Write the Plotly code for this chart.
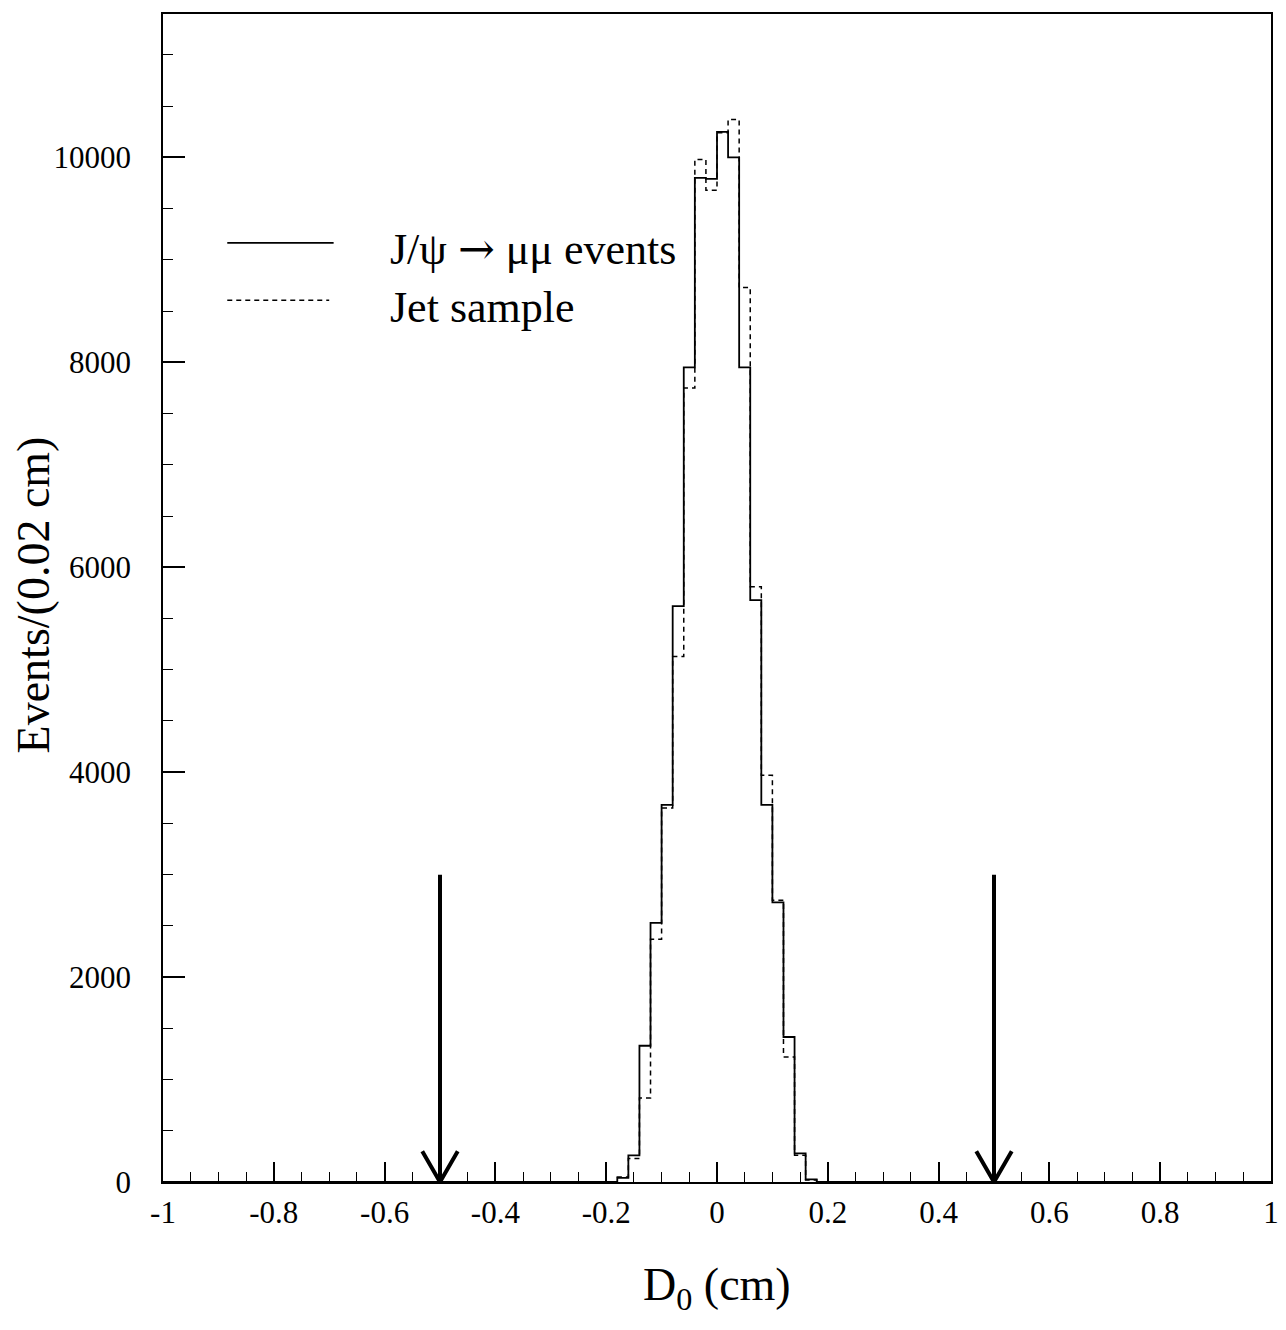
import numpy as np
import plotly.graph_objects as go

# Impact parameter histogram, 0.02 cm bins (only the populated bins are listed;
# every other bin in [-1, 1] is empty)
bin_centres = [-0.17, -0.15, -0.13, -0.11, -0.09, -0.07, -0.05, -0.03, -0.01,
               0.01, 0.03, 0.05, 0.07, 0.09, 0.11, 0.13, 0.15, 0.17]
jpsi_counts = [40, 260, 1330, 2530, 3680, 5620, 7950, 9800, 9790,
               10250, 10000, 7950, 5680, 3680, 2730, 1415, 280, 25]
jet_counts = [50, 230, 820, 2370, 3650, 5130, 7750, 9980, 9680,
              10240, 10370, 8730, 5810, 3970, 2750, 1220, 260, 20]

bin_width = 0.02
x_range = [-1.0, 1.0]

# cut positions marked with arrows
cut_values = [-0.5, 0.5]
arrow_height = 3000

x_tickvals = [-1, -0.8, -0.6, -0.4, -0.2, 0, 0.2, 0.4, 0.6, 0.8, 1]
x_ticktext = ["-1", "-0.8", "-0.6", "-0.4", "-0.2", "0", "0.2", "0.4", "0.6", "0.8", "1"]
y_tickvals = [0, 2000, 4000, 6000, 8000, 10000]
y_ticktext = ["0", "2000", "4000", "6000", "8000", "10000"]

series_names = ["J/\u03c8 <span style='font-family:DejaVu Serif'>\u2192</span> \u03bc\u03bc events",
                "Jet sample"]

SERIF = "Liberation Serif, Times New Roman, serif"


def full_histogram(centres, counts):
    """Spread the populated bins over the whole axis range and return
    step-outline coordinates (left edges plus the closing right edge)."""
    n_bins = int(round((x_range[1] - x_range[0]) / bin_width))
    edges = x_range[0] + bin_width * np.arange(n_bins + 1)
    values = np.zeros(n_bins)
    for c, v in zip(centres, counts):
        idx = int(np.floor((c - x_range[0]) / bin_width))
        values[idx] = v
    ys = np.append(values, values[-1])
    return edges, ys


fig = go.Figure()

hx, hy = full_histogram(bin_centres, jet_counts)
fig.add_trace(go.Scatter(x=hx, y=hy, mode="lines", line_shape="hv",
                         name="Jet sample",
                         line=dict(color="black", width=1.5, dash="5px,4px")))

hx, hy = full_histogram(bin_centres, jpsi_counts)
fig.add_trace(go.Scatter(x=hx, y=hy, mode="lines", line_shape="hv",
                         name="J/psi -> mu mu events",
                         line=dict(color="black", width=1.8)))

# arrows marking the |D0| cut
head_dx = 0.032
head_dy = 300
for c in cut_values:
    fig.add_trace(go.Scatter(x=[c, c], y=[arrow_height, 0], mode="lines",
                             line=dict(color="black", width=4),
                             showlegend=False, hoverinfo="skip"))
    fig.add_trace(go.Scatter(x=[c - head_dx, c, c + head_dx],
                             y=[head_dy, 0, head_dy], mode="lines",
                             line=dict(color="black", width=4),
                             showlegend=False, hoverinfo="skip"))

# hand-drawn legend: line samples and labels
legend_rows = [
    dict(y=0.804, ty=0.7995, x1=0.154, dash="solid", width=1.8),
    dict(y=0.755, ty=0.749, x1=0.150, dash="5px,4px", width=1.5),
]
for row, name in zip(legend_rows, series_names):
    fig.add_shape(type="line", xref="paper", yref="paper",
                  x0=0.058, x1=row["x1"], y0=row["y"], y1=row["y"],
                  line=dict(color="black", width=row["width"], dash=row["dash"]))
    fig.add_annotation(xref="paper", yref="paper", x=0.2034, y=row["ty"],
                       text=name, showarrow=False, xanchor="left",
                       yanchor="middle",
                       font=dict(family=SERIF, size=44, color="black"))

# axis titles
fig.add_annotation(xref="paper", yref="paper", x=0.5, y=-0.0908,
                   text="D<sub>0</sub> (cm)", showarrow=False,
                   xanchor="center", yanchor="middle",
                   font=dict(family=SERIF, size=46, color="black"))
fig.add_annotation(xref="paper", yref="paper", x=-0.1165, y=0.503,
                   text="Events/(0.02 cm)", showarrow=False, textangle=-90,
                   xanchor="center", yanchor="middle",
                   font=dict(family=SERIF, size=46, color="black"))

fig.update_layout(
    width=1286, height=1330,
    margin=dict(l=163, r=7, t=14, b=148),
    paper_bgcolor="white", plot_bgcolor="white",
    showlegend=False,
    font=dict(family=SERIF, color="black"),
)

fig.update_xaxes(
    range=x_range, showgrid=False, zeroline=False,
    showline=True, linecolor="black", linewidth=1.5, mirror=True,
    tickmode="array", tickvals=x_tickvals, ticktext=x_ticktext,
    ticks="inside", ticklen=20, tickwidth=1.5, tickcolor="black",
    ticklabelstandoff=2,
    tickfont=dict(family=SERIF, size=31, color="black"),
    minor=dict(tickmode="linear", tick0=-1, dtick=0.05, ticks="inside",
               ticklen=10, tickwidth=1.2, tickcolor="black", showgrid=False),
)
fig.update_yaxes(
    range=[0, 11400], showgrid=False, zeroline=False,
    showline=True, linecolor="black", linewidth=1.5, mirror=True,
    tickmode="array", tickvals=y_tickvals, ticktext=y_ticktext,
    ticks="inside", ticklen=22, tickwidth=1.5, tickcolor="black",
    ticklabelstandoff=24,
    tickfont=dict(family=SERIF, size=31, color="black"),
    minor=dict(tickmode="linear", tick0=0, dtick=500, ticks="inside",
               ticklen=10, tickwidth=1.2, tickcolor="black", showgrid=False),
)

fig.write_html("out.html")
